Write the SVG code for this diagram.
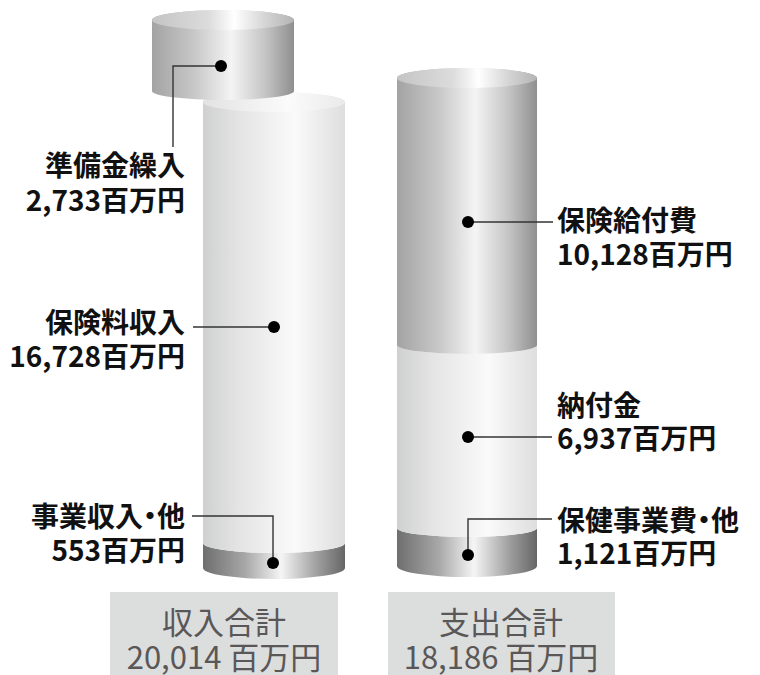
<svg xmlns="http://www.w3.org/2000/svg" width="760" height="675" viewBox="0 0 760 675">
  <defs>
    <linearGradient id="gMed" x1="0" y1="0" x2="1" y2="0">
      <stop offset="0" stop-color="#a3a3a3"/>
      <stop offset="0.3" stop-color="#c8c8c8"/>
      <stop offset="0.56" stop-color="#f4f4f4"/>
      <stop offset="0.8" stop-color="#c4c4c4"/>
      <stop offset="1" stop-color="#8f8f8f"/>
    </linearGradient>
    <linearGradient id="gMedTop" x1="0" y1="0" x2="1" y2="0">
      <stop offset="0" stop-color="#c4c4c4"/>
      <stop offset="0.4" stop-color="#dcdcdc"/>
      <stop offset="0.58" stop-color="#ffffff"/>
      <stop offset="0.8" stop-color="#d4d4d4"/>
      <stop offset="1" stop-color="#b4b4b4"/>
    </linearGradient>
    <linearGradient id="gLight" x1="0" y1="0" x2="1" y2="0">
      <stop offset="0" stop-color="#cfd0d0"/>
      <stop offset="0.25" stop-color="#e4e4e4"/>
      <stop offset="0.65" stop-color="#fafafa"/>
      <stop offset="1" stop-color="#dedede"/>
    </linearGradient>
    <linearGradient id="gLightTop" x1="0" y1="0" x2="1" y2="0">
      <stop offset="0" stop-color="#e2e2e2"/>
      <stop offset="0.6" stop-color="#fbfbfb"/>
      <stop offset="1" stop-color="#eaeaea"/>
    </linearGradient>
    <linearGradient id="gDark" x1="0" y1="0" x2="1" y2="0">
      <stop offset="0" stop-color="#6e6e6e"/>
      <stop offset="0.3" stop-color="#a8a8a8"/>
      <stop offset="0.55" stop-color="#f5f5f5"/>
      <stop offset="0.8" stop-color="#a0a0a0"/>
      <stop offset="1" stop-color="#666666"/>
    </linearGradient>
  </defs>
  <style>
    .lbl { font-family: "Noto Sans CJK JP", "Noto Sans", sans-serif; font-size: 28px; font-weight: 700; fill: #111; font-feature-settings: "palt"; }
    .end { text-anchor: end; }
    .tot { font-family: "Noto Sans CJK JP", "Noto Sans", sans-serif; font-size: 31px; font-weight: 400; fill: #595757; text-anchor: middle; }
    .box { fill: #dcdddd; }
    .conn { fill: none; stroke: #333; stroke-width: 1.4; }
    .dot { fill: #000; }
  </style>

  <!-- Income cylinder (large) -->
  <g id="income-cylinder">
    <path d="M203,543 A71,10 0 0 0 345,543 L345,568 A71,11 0 0 1 203,568 Z" fill="url(#gDark)"/>
    <path d="M203,102 A71,10 0 0 1 345,102 L345,543 A71,10 0 0 1 203,543 Z" fill="url(#gLight)"/>
    <ellipse cx="274" cy="102" rx="71" ry="10" fill="url(#gLightTop)"/>
  </g>

  <!-- Reserve cylinder (small) -->
  <g id="reserve-cylinder">
    <path d="M152,20 A71,10 0 0 1 294,20 L294,91 A71,9 0 0 1 152,91 Z" fill="url(#gMed)"/>
    <ellipse cx="223" cy="20" rx="71" ry="10" fill="url(#gMedTop)"/>
  </g>

  <!-- Expenditure cylinder -->
  <g id="expense-cylinder">
    <path d="M397,528 A70,9 0 0 0 537,528 L537,566 A70,11 0 0 1 397,566 Z" fill="url(#gDark)"/>
    <path d="M397,345 A70,9 0 0 0 537,345 L537,528 A70,9 0 0 1 397,528 Z" fill="url(#gLight)"/>
    <path d="M397,78 A70,10 0 0 1 537,78 L537,345 A70,9 0 0 1 397,345 Z" fill="url(#gMed)"/>
    <ellipse cx="467" cy="78" rx="70" ry="10" fill="url(#gMedTop)"/>
  </g>

  <!-- Connectors -->
  <g id="connectors">
    <polyline class="conn" points="221,66 173,66 173,147"/>
    <line class="conn" x1="193" y1="327" x2="274" y2="327"/>
    <polyline class="conn" points="192,516 273,516 273,563"/>
    <line class="conn" x1="468" y1="222" x2="553" y2="222"/>
    <line class="conn" x1="468" y1="437" x2="552" y2="437"/>
    <polyline class="conn" points="468,555 468,519 552,519"/>
    <circle class="dot" cx="221" cy="66" r="6"/>
    <circle class="dot" cx="274" cy="327" r="6"/>
    <circle class="dot" cx="273" cy="563" r="6"/>
    <circle class="dot" cx="468" cy="222" r="6"/>
    <circle class="dot" cx="468" cy="437" r="6"/>
    <circle class="dot" cx="468" cy="555" r="6"/>
  </g>

  <!-- Labels -->
  <g id="label-reserve">
    <text class="lbl end" x="185" y="176">準備金繰入</text>
    <text class="lbl end" x="185" y="211">2,733百万円</text>
  </g>
  <g id="label-premium">
    <text class="lbl end" x="185" y="333">保険料収入</text>
    <text class="lbl end" x="185" y="367">16,728百万円</text>
  </g>
  <g id="label-business-income">
    <text class="lbl end" x="185" y="527">事業収入・他</text>
    <text class="lbl end" x="185" y="561">553百万円</text>
  </g>
  <g id="label-benefits">
    <text class="lbl" x="557" y="231">保険給付費</text>
    <text class="lbl" x="557" y="265">10,128百万円</text>
  </g>
  <g id="label-contribution">
    <text class="lbl" x="557" y="416">納付金</text>
    <text class="lbl" x="557" y="449">6,937百万円</text>
  </g>
  <g id="label-health">
    <text class="lbl" x="557" y="531">保健事業費・他</text>
    <text class="lbl" x="557" y="564">1,121百万円</text>
  </g>

  <!-- Totals -->
  <g id="total-income">
    <rect class="box" x="110" y="592" width="228" height="83"/>
    <text class="tot" x="224" y="634">収入合計</text>
    <text class="tot" x="224" y="669">20,014 百万円</text>
  </g>
  <g id="total-expense">
    <rect class="box" x="388" y="592" width="227" height="83"/>
    <text class="tot" x="501" y="634">支出合計</text>
    <text class="tot" x="501" y="669">18,186 百万円</text>
  </g>
</svg>
